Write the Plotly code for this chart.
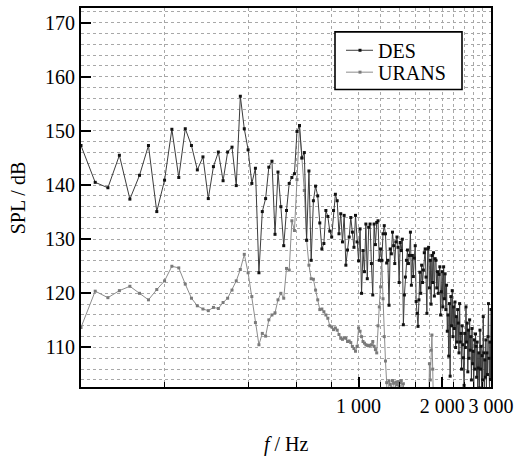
import plotly.graph_objects as go

# Frequency grid: 12.5 Hz resolution from 100 Hz to 3000 Hz
f_start = 100.0
f_step = 12.5

# DES spectrum (dB), one value per 12.5 Hz bin, 100 ... 3000 Hz
des_spl = [
    # 100 - 375 Hz
    147.3, 140.5, 139.5, 145.5, 137.4, 141.8, 147.3, 135.1, 140.9, 150.3, 141.4, 150.4,
    147.3, 142.8, 145.2, 137.5, 143.4, 146.1, 140.8, 146.1, 147.0, 139.9, 156.4,
    # 387.5 - 600 Hz
    150.4, 146.5, 140.3, 143.1, 123.8, 135.1, 137.5, 143.3, 144.4, 130.9, 142.4, 136.0,
    128.8, 135.3, 140.3, 141.4, 142.1, 149.9,
    # 612.5 - 1000 Hz
    151.0, 145.0, 146.0, 129.8, 142.6, 126.1, 137.1, 139.8, 138.0, 133.0, 128.2, 129.2,
    135.3, 134.2, 131.5, 130.4, 135.3, 138.3, 137.1, 131.0, 134.7, 129.5, 134.4, 125.2,
    128.0, 130.4, 134.0, 131.3, 128.5, 134.4, 129.5, 126.0,
    # 1012.5 - 2000 Hz
    131.9, 120.0, 127.9, 124.0, 132.8, 122.7, 132.2, 132.8, 125.5, 119.7,
    132.8, 129.0, 133.1, 133.4, 126.1, 128.2, 126.1, 131.0, 132.5, 131.0,
    125.6, 126.1, 117.8, 128.2, 127.3, 131.3, 128.8, 125.5, 129.5, 130.4,
    128.5, 122.0, 129.4, 127.9, 130.0, 114.2, 119.7, 123.0, 126.1, 128.0,
    125.5, 127.0, 131.3, 121.5, 127.0, 123.1, 126.5, 128.8, 118.5, 116.3,
    113.9, 118.8, 123.9, 120.0, 125.2, 122.0, 124.3, 127.5, 128.2, 123.0,
    116.3, 128.2, 128.5, 121.0, 126.1, 118.0, 127.0, 122.0, 127.5, 119.5,
    126.4, 126.1, 121.0, 124.0, 120.0, 123.5, 124.9, 116.0, 120.3, 124.0,
    # 2012.5 - 3000 Hz
    117.5, 124.9, 119.0, 123.6, 117.0, 121.5, 113.0, 116.0, 108.4, 118.1,
    104.7, 119.4, 114.0, 120.5, 112.0, 117.5, 113.5, 118.4, 110.0, 115.7,
    111.0, 117.0, 114.5, 109.0, 118.1, 111.0, 112.6, 106.0, 114.0, 110.5,
    108.1, 103.0, 112.6, 110.0, 117.5, 111.0, 114.5, 105.5, 113.2, 108.0,
    115.1, 109.5, 112.0, 104.0, 113.5, 107.0, 109.3, 102.0, 111.4, 106.0,
    112.5, 110.2, 104.5, 111.0, 101.5, 106.2, 109.0, 102.5, 113.2, 106.0,
    110.2, 101.0, 108.5, 104.0, 115.7, 109.0, 102.0, 107.7, 104.5, 111.4,
    101.5, 109.0, 105.0, 112.0, 118.1, 108.0, 102.0, 111.0, 104.1, 117.0,
]

# URANS spectrum (dB); values below the axis floor are off-chart, None = not visible
urans_spl = [
    # 100 - 375 Hz
    113.7, 120.4, 119.2, 120.5, 121.3, 120.0, 118.8, 120.7, 122.3, 125.0, 124.7, 121.7,
    119.1, 117.7, 117.1, 116.8, 117.4, 117.2, 118.3, 119.1, 120.6, 122.3, 124.4,
    # 387.5 - 600 Hz
    127.2, 123.8, 119.4, 114.6, 110.5, 112.6, 112.1, 115.1, 116.0, 116.4, 118.8, 120.0,
    119.1, 124.6, 124.3, 133.4, 131.6, 141.0,
    # 612.5 - 1000 Hz
    150.9, 145.0, 139.0, 129.8, 125.2, 122.7, 122.6, 120.6, 118.8, 117.0, 117.1, 116.6,
    116.0, 115.4, 114.0, 113.8, 113.3, 113.6, 113.2, 112.4, 111.7, 111.5, 111.8, 111.7,
    111.1, 111.2, 110.9, 110.2, 109.8, 109.3, 110.2, 113.6,
    # 1012.5 - 1862.5 Hz
    113.0, 112.0, 111.1, 110.8, 110.5, 110.4, 110.3, 110.4, 110.5, 111.1,
    110.2, 109.6, 109.0, 114.0, 117.5, 121.2, 126.0, 119.0, 112.0, 107.5,
    103.5, 98.0, 103.8, 103.2, 102.5, 103.9, 103.4, 101.0, 103.6, 103.1,
    103.7, 102.8, 103.5, 103.9, 102.0, 103.3, 96.0, None, None, None,
    None, None, None, None, None, None, None, None, None, None,
    None, None, None, None, None, None, None, None, None, None,
    None, None, 96.0, 107.0, 104.0, 109.5, 112.3, 106.0, 98.0,
]

series_names = ["DES", "URANS"]
x_major = [1000, 2000, 3000]
x_major_text = ["1 000", "2 000", "3 000"]
x_minor = [200, 400, 600, 800, 1200, 1400, 1600, 1800, 2200, 2400, 2600, 2800]
y_major = [110, 120, 130, 140, 150, 160, 170]

freq_des = [f_start + f_step * i for i in range(len(des_spl))]
freq_urans = [f_start + f_step * i for i in range(len(urans_spl))]

FONT = "'Liberation Serif', 'Times New Roman', Times, 'DejaVu Serif', serif"
DES_LINE, DES_MARK = "#3c3c3c", "#111111"
UR_LINE, UR_MARK = "#8c8c8c", "#7a7a7a"

fig = go.Figure()
fig.add_trace(go.Scatter(
    x=freq_urans, y=urans_spl, name=series_names[1], mode="lines+markers",
    line=dict(color=UR_LINE, width=1),
    marker=dict(symbol="square", size=3, color=UR_MARK),
    showlegend=False,
))
fig.add_trace(go.Scatter(
    x=freq_des, y=des_spl, name=series_names[0], mode="lines+markers",
    line=dict(color=DES_LINE, width=1),
    marker=dict(symbol="square", size=3, color=DES_MARK),
    showlegend=False,
))

grid = dict(showgrid=True, gridcolor="#a8a8a8", gridwidth=1, griddash="dot")

# plot-area geometry in pixels (for the boxed legend in paper coordinates)
L, R, T, B = 81, 491, 6, 387
W, H = R - L, B - T
def px(xp):
    return (xp - L) / W
def py(yp):
    return (B - yp) / H

shapes = [
    dict(type="rect", xref="paper", yref="paper", layer="above",
         x0=px(335), x1=px(462), y0=py(88), y1=py(30),
         line=dict(color="black", width=1.6), fillcolor="white"),
]
annotations = [
    dict(text="<i>f</i> / Hz", xref="paper", yref="paper", x=0.5, y=-0.152,
         xanchor="center", yanchor="middle", showarrow=False,
         font=dict(family=FONT, size=20, color="black")),
    dict(text="SPL / dB", xref="paper", yref="paper", x=-0.154, y=0.5,
         xanchor="center", yanchor="middle", textangle=-90, showarrow=False,
         font=dict(family=FONT, size=20, color="black")),
]
for name, ly, lc, mc in [(series_names[0], 48.5, DES_LINE, DES_MARK),
                         (series_names[1], 70.5, UR_LINE, UR_MARK)]:
    shapes.append(dict(type="line", xref="paper", yref="paper", layer="above",
                       x0=px(346), x1=px(373), y0=py(ly), y1=py(ly),
                       line=dict(color=lc, width=1)))
    shapes.append(dict(type="rect", xref="paper", yref="paper", layer="above",
                       x0=px(358.5), x1=px(361.5), y0=py(ly + 1.5), y1=py(ly - 1.5),
                       line=dict(width=0), fillcolor=mc))
    annotations.append(dict(text=name, xref="paper", yref="paper",
                            x=px(377), y=py(ly + 0.5), xanchor="left", yanchor="middle",
                            showarrow=False, borderpad=0,
                            font=dict(family=FONT, size=20, color="black")))

fig.update_layout(
    width=525, height=457,
    margin=dict(l=L, r=525 - R, t=T, b=457 - B),
    paper_bgcolor="white", plot_bgcolor="white",
    font=dict(family=FONT, size=20, color="black"),
    showlegend=False,
    xaxis=dict(
        type="log", range=[2, 3.4771],
        tickmode="array", tickvals=x_major, ticktext=x_major_text,
        ticks="inside", ticklen=10, tickwidth=2, tickcolor="black",
        showline=True, linecolor="black", linewidth=2, mirror=True,
        zeroline=False,
        tickfont=dict(family=FONT, size=20, color="black"),
        minor=dict(tickmode="array", tickvals=x_minor, ticks="inside", ticklen=5,
                   tickwidth=1, tickcolor="black", **grid),
        **grid,
    ),
    yaxis=dict(
        range=[102.7, 172.7],
        tickmode="array", tickvals=y_major,
        ticks="inside", ticklen=10, tickwidth=2, tickcolor="black",
        showline=True, linecolor="black", linewidth=2, mirror=True,
        zeroline=False,
        tickfont=dict(family=FONT, size=20, color="black"),
        minor=dict(tickmode="linear", tick0=0, dtick=2, ticks="", **grid),
        **grid,
    ),
    shapes=shapes,
    annotations=annotations,
)

fig.write_html("out.html", config={"displayModeBar": False},
               post_script="document.body.style.margin='0';")
